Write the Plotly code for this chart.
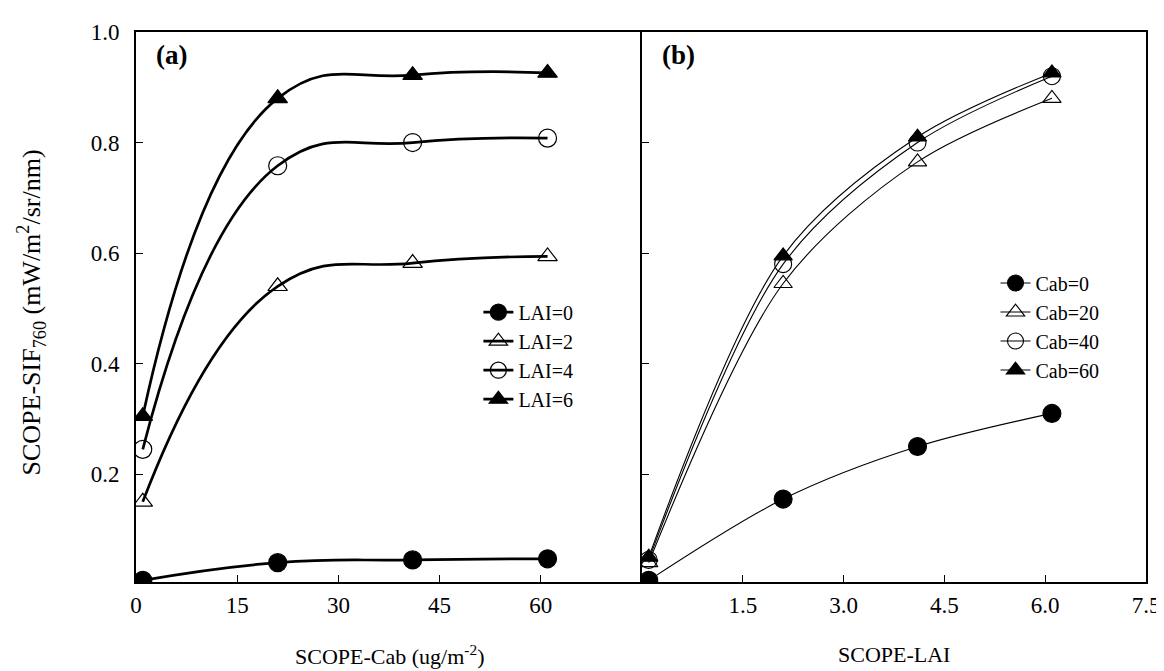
import plotly.graph_objects as go

# ---- data ----
cab_x = [1, 21, 41, 61]            # panel (a) x: SCOPE-Cab
lai_x = [0.1, 2.1, 4.1, 6.1]       # panel (b) x: SCOPE-LAI

lai0 = [0.008, 0.040, 0.045, 0.047]
lai2 = [0.150, 0.540, 0.582, 0.594]
lai4 = [0.245, 0.758, 0.800, 0.808]
lai6 = [0.305, 0.880, 0.922, 0.926]

cab0 = [0.008, 0.155, 0.250, 0.310]
cab20 = [0.040, 0.545, 0.765, 0.880]
cab40 = [0.045, 0.580, 0.800, 0.920]
cab60 = [0.050, 0.595, 0.810, 0.926]

labels_a = ["LAI=0", "LAI=2", "LAI=4", "LAI=6"]
labels_b = ["Cab=0", "Cab=20", "Cab=40", "Cab=60"]
y_ticks = [0.2, 0.4, 0.6, 0.8, 1.0]
xa_ticks = [0, 15, 30, 45, 60]
xb_ticks = [1.5, 3.0, 4.5, 6.0, 7.5]

symbols = ["circle", "triangle-up-open", "circle-open", "triangle-up"]
sizes_a = [18, 17, 18, 17]
sizes_b = [18, 16, 17, 16]

FONT = "Liberation Serif"
fig = go.Figure()

for i, (lab, ys) in enumerate(zip(labels_a, [lai0, lai2, lai4, lai6])):
    fig.add_trace(go.Scatter(
        x=cab_x, y=ys, name=lab, mode="lines+markers",
        line=dict(color="black", width=2.7, shape="spline", smoothing=1.3),
        marker=dict(symbol=symbols[i], size=sizes_a[i], color="black",
                    line=dict(color="black", width=1.2)),
        xaxis="x", yaxis="y", legend="legend", legendgroup="a%d" % i,
    ))

for i, (lab, ys) in enumerate(zip(labels_b, [cab0, cab20, cab40, cab60])):
    fig.add_trace(go.Scatter(
        x=lai_x, y=ys, name=lab, mode="lines+markers",
        line=dict(color="black", width=1.1, shape="spline", smoothing=0.9),
        marker=dict(symbol=symbols[i], size=sizes_b[i], color="black",
                    line=dict(color="black", width=1.1)),
        xaxis="x2", yaxis="y2", legend="legend2", legendgroup="b%d" % i,
    ))

YMIN = 0.005
tickfont = dict(family=FONT, size=23, color="black")
axis_common = dict(showline=True, linecolor="black", linewidth=1.8,
                   ticks="inside", ticklen=7, tickwidth=1.2, tickcolor="black",
                   showgrid=False, zeroline=False, tickfont=tickfont)

fig.update_layout(
    width=1164, height=671,
    margin=dict(l=128, r=18, t=22, b=97),
    paper_bgcolor="white", plot_bgcolor="white",
    font=dict(family=FONT, color="black"),
    xaxis=dict(domain=[0, 0.501], range=[0, 75], tickvals=xa_ticks,
               ticktext=[str(v) for v in xa_ticks], anchor="y", mirror=True,
               ticklabelstandoff=1, **axis_common),
    xaxis2=dict(domain=[0.501, 1], range=[0, 7.5], tickvals=xb_ticks,
                ticktext=["%.1f" % v for v in xb_ticks], anchor="y2", mirror=True,
                ticklabelstandoff=1, **axis_common),
    yaxis=dict(range=[YMIN, 1.0], tickvals=y_ticks, mirror=False,
               ticktext=["%.1f" % v for v in y_ticks], anchor="x",
               ticklabelstandoff=10, **axis_common),
    yaxis2=dict(range=[YMIN, 1.0], tickvals=y_ticks, showticklabels=False,
                anchor="x2", matches="y", mirror=True, **axis_common),
    legend=dict(x=0.339, y=0.526, xanchor="left", yanchor="top",
                bgcolor="rgba(0,0,0,0)", tracegroupgap=0,
                font=dict(family=FONT, size=20, color="black")),
    legend2=dict(x=0.851, y=0.579, xanchor="left", yanchor="top",
                 bgcolor="rgba(0,0,0,0)", tracegroupgap=0,
                 font=dict(family=FONT, size=20, color="black")),
    annotations=[
        dict(text="<b>(a)</b>", x=0.018, y=0.99, xref="paper", yref="paper",
             xanchor="left", yanchor="top", showarrow=False,
             font=dict(family=FONT, size=27, color="black")),
        dict(text="<b>(b)</b>", x=0.519, y=0.99, xref="paper", yref="paper",
             xanchor="left", yanchor="top", showarrow=False,
             font=dict(family=FONT, size=27, color="black")),
        dict(text="SCOPE-Cab (ug/m<sup>-2</sup>)", x=0.2505, y=-0.132,
             xref="paper", yref="paper", xanchor="center", yanchor="middle",
             showarrow=False, font=dict(family=FONT, size=22, color="black")),
        dict(text="SCOPE-LAI", x=0.7505, y=-0.132,
             xref="paper", yref="paper", xanchor="center", yanchor="middle",
             showarrow=False, font=dict(family=FONT, size=22, color="black")),
        dict(text="SCOPE-SIF<sub>760</sub> (mW/m<sup>2</sup>/sr/nm)", x=-0.104, y=0.49,
             xref="paper", yref="paper", xanchor="center", yanchor="middle",
             textangle=-90, showarrow=False,
             font=dict(family=FONT, size=26, color="black")),
    ],
)

fig.write_html("out.html")
